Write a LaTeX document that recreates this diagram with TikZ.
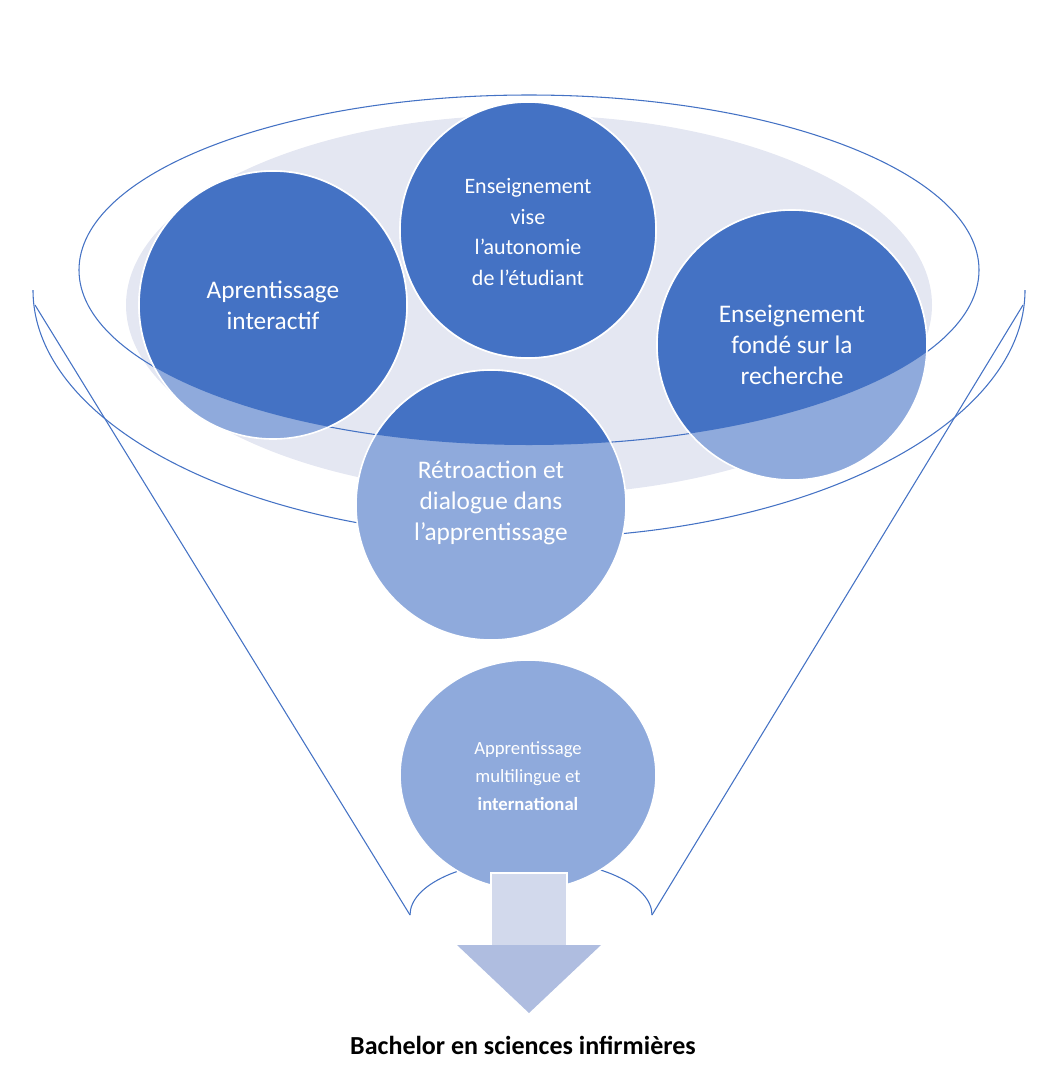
\documentclass[tikz,border=0pt]{standalone}
\usepackage{fontspec}
\setmainfont{Carlito}
\definecolor{dark}{HTML}{4472C4}
\definecolor{light}{HTML}{8FAADC}
\definecolor{grayb}{HTML}{E4E7F2}
\definecolor{shaft}{HTML}{D2D9EC}
\definecolor{head}{HTML}{AFBDE0}
\begin{document}
\begin{tikzpicture}[x=0.75pt,y=-0.75pt,
  line/.style={draw=dark,line width=0.8pt},
  circ/.style={draw=white,line width=1.2pt},
  lab/.style={text=white,align=center,font=\fontsize{19}{23}\selectfont}]
\useasboundingbox (0,0) rectangle (1046,1068);
% funnel outline
\draw[line] (33,290) arc[start angle=180,end angle=0,x radius=496,y radius=248];
\draw[line] (35,305) -- (410,915);
\draw[line] (1023,305) -- (652,915);
\draw[line] (410,915) arc[start angle=180,end angle=360,x radius=121,y radius=55];
% gray ellipse
\fill[grayb] (529,305) ellipse[x radius=403,y radius=190];
\draw[line] (529,270) ellipse[x radius=450,y radius=175];
% circles light
\foreach \x/\y/\r in {273/305/134,528/230/128,792/345/135,491/505/135}
  \filldraw[circ,fill=light] (\x,\y) circle[radius=\r];
\begin{scope}
\clip (529,270) ellipse[x radius=450,y radius=175];
\foreach \x/\y/\r in {273/305/134,528/230/128,792/345/135,491/505/135}
  \filldraw[circ,fill=dark] (\x,\y) circle[radius=\r];
\end{scope}
\node[lab] (a) at (273,305) {Aprentissage\\interactif};
\node[lab,font=\fontsize{16.5}{23}\selectfont] (b) at (528,232) {Enseignement\\vise\\l’autonomie\\de l’étudiant};
\node[lab] (c) at (792,345) {Enseignement\\fondé sur la\\recherche};
\node[lab] (d) at (491,503) {Rétroaction et\\dialogue dans\\l’apprentissage};
\filldraw[circ,fill=light] (528,775) ellipse[x radius=128,y radius=115];
\node[lab,font=\fontsize{14}{21}\selectfont] (e) at (528,776) {Apprentissage\\multilingue et\\\textbf{international}};
% arrow
\fill[shaft] (491,873) rectangle (567,946);
\draw[white,line width=1pt] (491,946) -- (491,873) -- (567,873) -- (567,946);
\fill[head] (457,945) -- (601,945) -- (529,1013) -- cycle;
\node[font=\bfseries\fontsize{19.5}{23}\selectfont] (t) at (523,1045) {Bachelor en sciences infirmières};
\end{tikzpicture}
\end{document}
